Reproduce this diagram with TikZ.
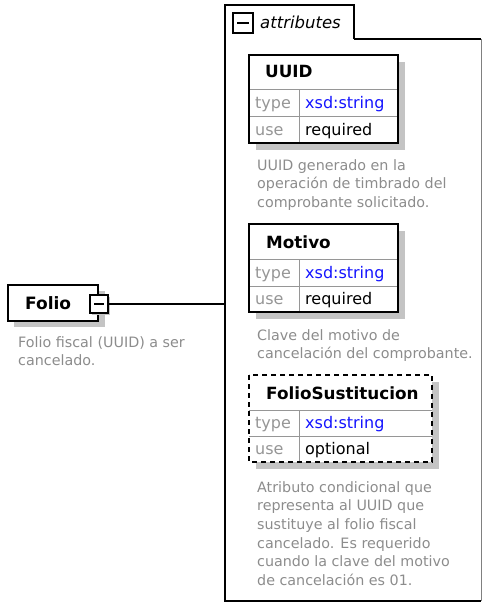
\documentclass[tikz,border=0pt]{standalone}
\usepackage{fontspec}
\setmainfont{DejaVu Sans}
\usepackage{tikz}

\definecolor{descgray}{RGB}{140,140,140}
\definecolor{lblgray}{RGB}{150,150,150}
\definecolor{shadowgray}{RGB}{196,196,196}
\definecolor{rulegray}{RGB}{150,150,150}
\definecolor{xsdblue}{RGB}{20,20,255}

\begin{document}
\begin{tikzpicture}[x=1pt,y=-1pt,
	attbox/.style={draw=black,line width=2},
	rowline/.style={draw=rulegray,line width=1},
	head/.style={anchor=base west,font=\fontsize{16.8}{18}\selectfont\bfseries},
	lbl/.style={anchor=base west,text=lblgray,font=\fontsize{16}{18}\selectfont},
	val/.style={anchor=base west,font=\fontsize{16}{18}\selectfont},
	desc/.style={anchor=north west,align=left,text=descgray,font=\fontsize{14.3}{18.7}\selectfont}]
			\tikzstyle{every node}+=[inner sep=0pt]
			\useasboundingbox (0,0) rectangle (482,603);
			% attributes group
			\draw [black,line width=1.5] (354,39) -- (354,5) -- (225,5) -- (225,601) -- (481,601);
			\draw [black,line width=1.5] (354,39) -- (481,39);
			\draw [gray,line width=1] (481,39) -- (481,601);
			\draw [black,line width=2,fill=white] (233,13) rectangle (253,33);
			\draw [black,line width=2] (237,23) -- (249,23);
			\node (atttitle) [anchor=base west,font=\fontsize{16.5}{18}\selectfont\itshape] at (260,28) {attributes};
			\coordinate (attleft) at (225,304);
			% Folio element
			\fill [shadowgray] (14,291) rectangle (105,327);
			\draw [black,line width=1.5,fill=white] (8,285) rectangle (98,321);
			\node (folio) [anchor=base west,font=\fontsize{17}{18}\selectfont\bfseries] at (25,309) {Folio};
			\fill [shadowgray] (92,297) rectangle (110,315);
			\node (foliominus) [draw=black,line width=2,fill=white,minimum size=18] at (99,304) {};
			\draw [black,line width=1.5] (94,304) -- (104,304);
			\draw [black,line width=2] (foliominus.east) -- (attleft);
			\node (foliodesc) [desc] at (18,336) {Folio fiscal (UUID) a ser\\cancelado.};
			% UUID
			\fill [shadowgray] (256,62) rectangle (405,150);
			\fill [white] (249,55) rectangle (398,143);
			\draw [rowline] (249,89) -- (398,89);
			\draw [rowline] (249,116) -- (398,116);
			\draw [rowline] (299,89) -- (299,143);
			\draw [attbox] (249,55) rectangle (398,143);
			\node (uuid) [head] at (265,77) {UUID};
			\node (uuidtype) [lbl] at (255,108) {type};
			\node (uuidtypev) [val,text=xsdblue] at (305,108) {xsd:string};
			\node (uuiduse) [lbl] at (255,135) {use};
			\node (uuidusev) [val] at (305,135) {required};
			\node (uuiddesc) [desc] at (257,159) {UUID generado en la\\operación de timbrado del\\comprobante solicitado.};
			% Motivo
			\fill [shadowgray] (256,231) rectangle (405,319);
			\fill [white] (249,224) rectangle (398,312);
			\draw [rowline] (249,259) -- (398,259);
			\draw [rowline] (249,286) -- (398,286);
			\draw [rowline] (299,259) -- (299,312);
			\draw [attbox] (249,224) rectangle (398,312);
			\node (motivo) [head] at (266,248) {Motivo};
			\node (motivotype) [lbl] at (255,278) {type};
			\node (motivotypev) [val,text=xsdblue] at (305,278) {xsd:string};
			\node (motivouse) [lbl] at (255,304) {use};
			\node (motivousev) [val] at (305,304) {required};
			\node (motivodesc) [desc] at (257,329) {Clave del motivo de\\cancelación del comprobante.};
			% FolioSustitucion
			\fill [shadowgray] (256,382) rectangle (439,469);
			\fill [white] (249,375) rectangle (432,462);
			\draw [rowline] (249,410) -- (432,410);
			\draw [rowline] (249,436) -- (432,436);
			\draw [rowline] (299,410) -- (299,462);
			\draw [attbox,dashed,dash pattern=on 5pt off 4pt] (249,375) rectangle (432,462);
			\node (sust) [head] at (266,399) {FolioSustitucion};
			\node (susttype) [lbl] at (255,428) {type};
			\node (susttypev) [val,text=xsdblue] at (305,428) {xsd:string};
			\node (sustuse) [lbl] at (255,454) {use};
			\node (sustusev) [val] at (305,454) {optional};
			\node (sustdesc) [desc] at (257,481) {Atributo condicional que\\representa al UUID que\\sustituye al folio fiscal\\cancelado. Es requerido\\cuando la clave del motivo\\de cancelación es 01.};
			\end{tikzpicture}
\end{document}
